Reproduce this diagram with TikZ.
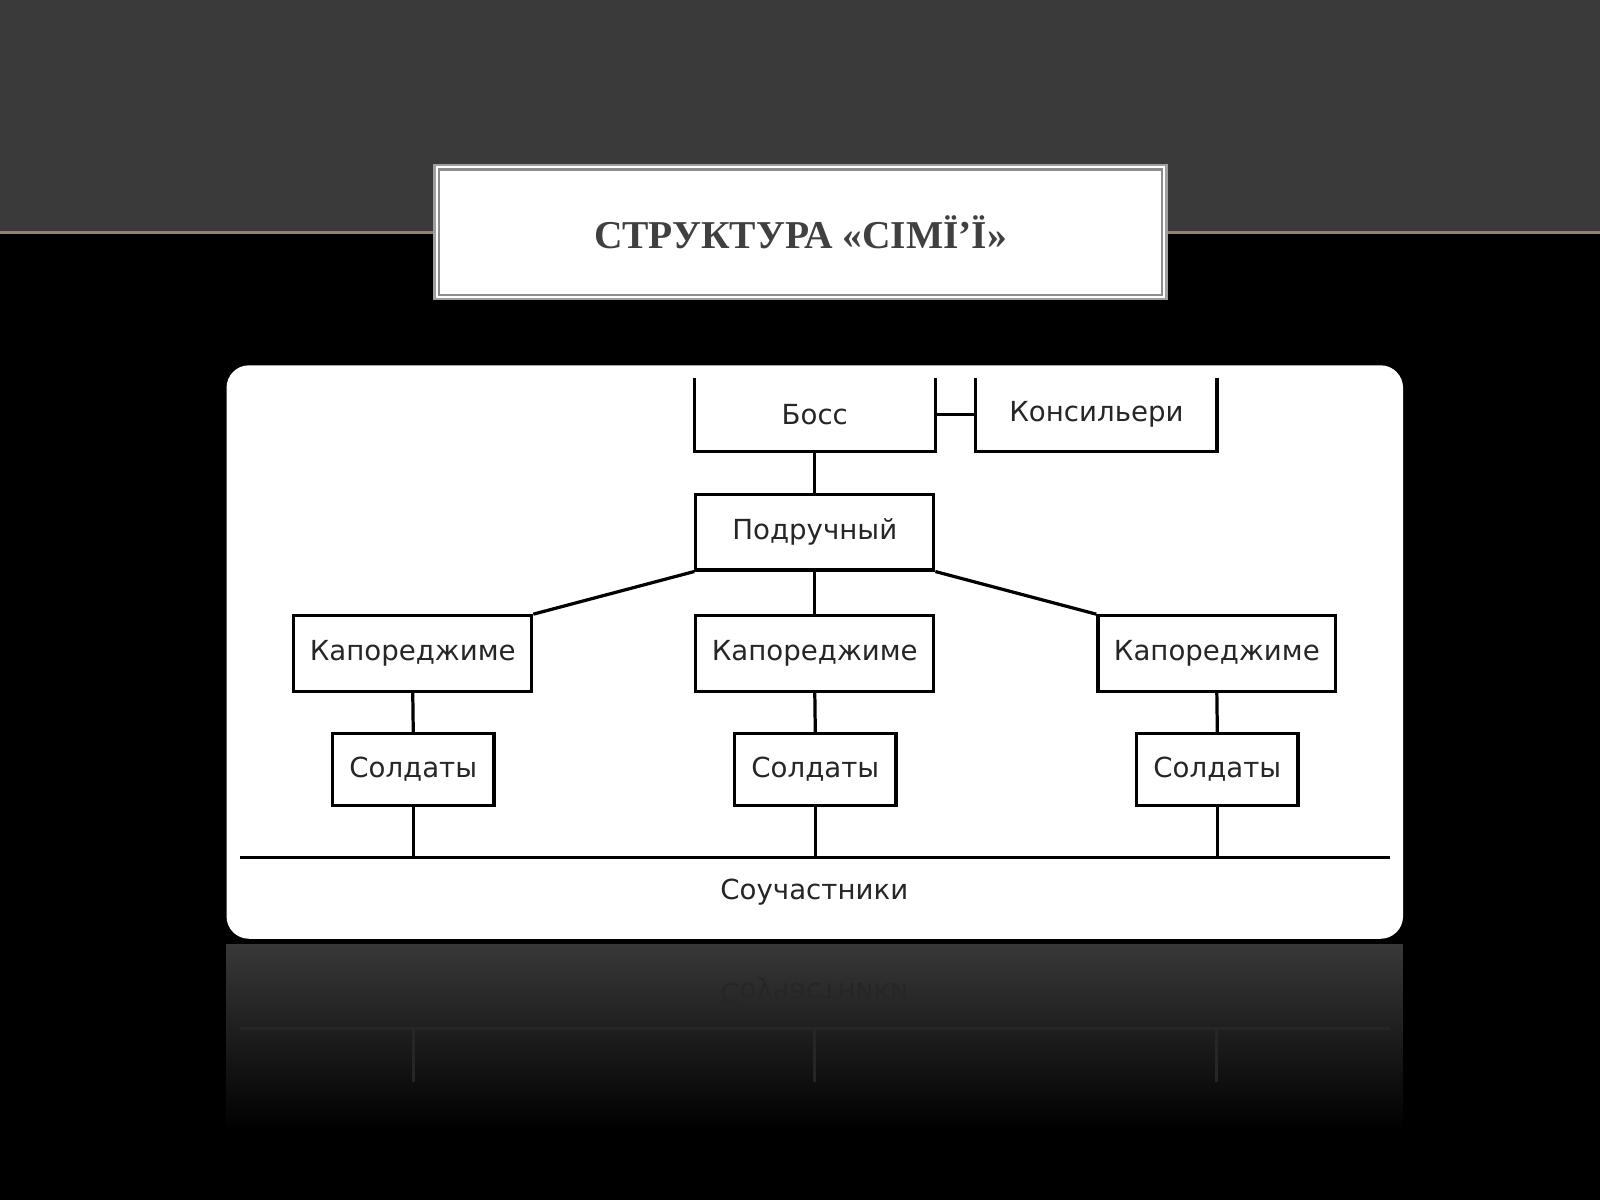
\documentclass[tikz,border=0pt]{standalone}
\usepackage{fontspec}
\setmainfont{DejaVu Sans}
\newfontfamily\titlefont{Liberation Serif}
\usetikzlibrary{fadings}
\definecolor{band}{HTML}{3A3A3A}
\definecolor{titlegray}{HTML}{404040}
\tikzset{box/.style={draw=black, line width=0.9pt, minimum width=2.33cm, minimum height=0.74cm, inner sep=0pt, font=\fontsize{7.7}{9}\selectfont, text=black!85},
  soldbox/.style={box, minimum width=1.58cm, minimum height=0.70cm},
  openbox/.style={box, draw=none, minimum height=0.69cm},
  link/.style={line width=0.9pt}}
\begin{document}
\begin{tikzpicture}[x=0.01cm, y=-0.01cm]
\useasboundingbox (0,0) rectangle (1568,1176);
% background
\fill[black] (0,0) rectangle (1568,1176);
\fill[band] (0,0) rectangle (1568,228);
\draw[color=brown!40!gray, line width=0.8pt] (0,228) -- (1568,228);
% title
\node (title) [draw=titlegray!50, fill=white, line width=0.6pt, minimum width=7.17cm, minimum height=1.31cm, inner sep=0pt] at (784.5,227.5) {};
\draw[titlegray!60, line width=0.6pt] ([xshift=1.5pt,yshift=-1.5pt]title.north west) rectangle ([xshift=-1.5pt,yshift=1.5pt]title.south east);
\node (titletext) [font=\titlefont\bfseries\fontsize{11}{13}\selectfont, text=titlegray] at (784.5,228) {СТРУКТУРА «СІМЇ’Ї»};
% reflection
\fill[gray!45!black, path fading=south] (222,925) rectangle (1375,1110);
\draw[black!85, line width=0.9pt] (235,1008) -- (1362,1008);
\foreach \x in {405,798,1192}
  \draw[black!85, line width=0.9pt] (\x,1008) -- (\x,1060);
\node (mirror) [yscale=-1, text=black!85, font=\fontsize{7.7}{9}\selectfont] at (798,971) {Соучастники};
% panel
\fill[white, rounded corners=0.22cm] (222,358) rectangle (1375,920);
% nodes
\node (boss) [openbox] at (798.5,406.5) {Босс};
\node (cons) [openbox] at (1074.5,406.5) {Консильери};
\node (pod) [box] at (798.5,521.5) {Подручный};
\node (capoL) [box] at (404.5,640.5) {Капореджиме};
\node (capoM) [box] at (798.5,640.5) {Капореджиме};
\node (capoR) [box] at (1192.5,640.5) {Капореджиме};
\node (soldL) [soldbox] at (405,754) {Солдаты};
\node (soldM) [soldbox] at (799,754) {Солдаты};
\node (soldR) [soldbox] at (1193,754) {Солдаты};
\coordinate (lineL) at (235,840);
\coordinate (lineR) at (1362,840);
\node (assoc) [font=\fontsize{7.7}{9}\selectfont, text=black!85] at (798,874) {Соучастники};
% open boxes
\draw[link] (boss.north west) -- (boss.south west) -- (boss.south east) -- (boss.north east);
\draw[link] (cons.north west) -- (cons.south west) -- (cons.south east) -- (cons.north east);
% connectors
\draw[link] (boss.east) -- (cons.west);
\draw[link] (boss.south) -- (pod.north);
\draw[link] (pod.south west) -- (capoL.north east);
\draw[link] (pod.south) -- (capoM.north);
\draw[link] (pod.south east) -- (capoR.north west);
\draw[link] (lineL) -- (lineR);
\draw[link] (capoL.south) -- (soldL.north);
\draw[link] (capoM.south) -- (soldM.north);
\draw[link] (capoR.south) -- (soldR.north);
\draw[link] (soldL.south) -- (soldL.south |- lineL);
\draw[link] (soldM.south) -- (soldM.south |- lineL);
\draw[link] (soldR.south) -- (soldR.south |- lineL);
\end{tikzpicture}
\end{document}
